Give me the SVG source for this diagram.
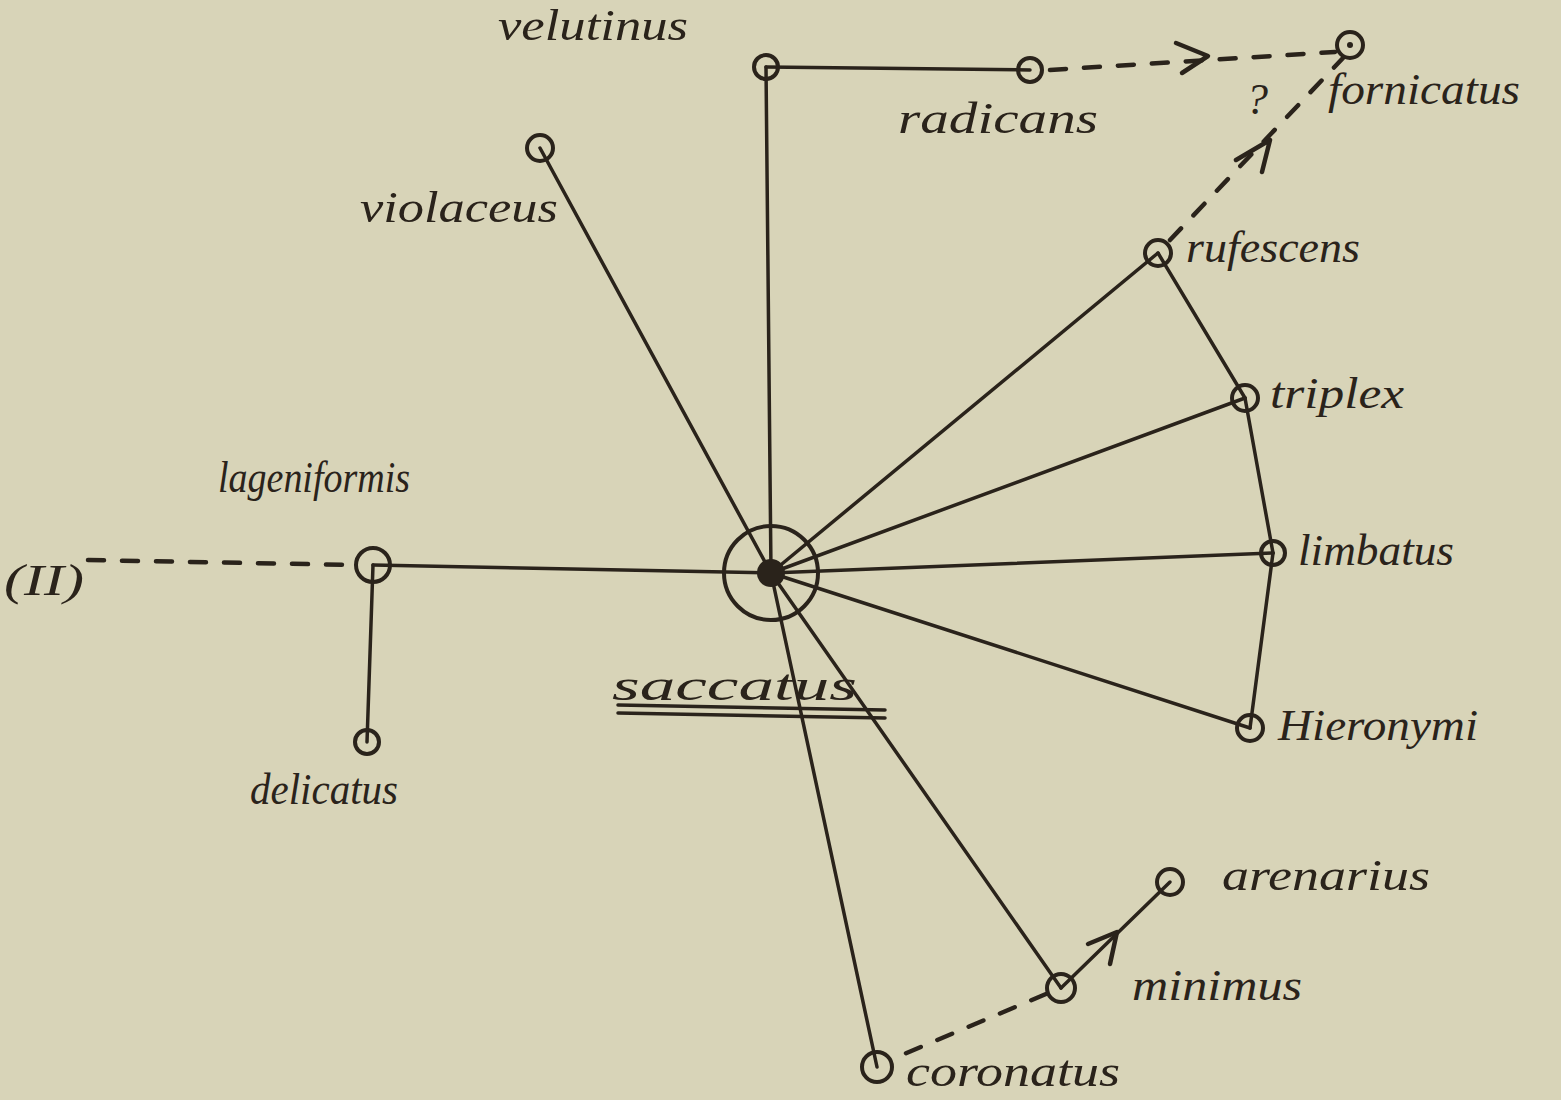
<svg xmlns="http://www.w3.org/2000/svg" width="1561" height="1100" viewBox="0 0 1561 1100">
<style>
.ln{stroke:#2a231b;stroke-width:3.5;fill:none;stroke-linecap:round}
.ds{stroke:#2a231b;stroke-width:4.5;fill:none;stroke-dasharray:16 18;stroke-linecap:round}
.nd{stroke:#2a231b;stroke-width:4;fill:none}
.ar{stroke:#2a231b;stroke-width:4.5;fill:none;stroke-linecap:round;stroke-linejoin:round}
.lb{font-family:"Liberation Serif","DejaVu Serif",serif;font-style:italic;font-size:44px;fill:#2a231b}
</style>
<rect width="1561" height="1100" fill="#d8d4b8"/>
<g id="connectors">
<line class="ln" x1="771" y1="573" x2="766" y2="67"/>
<line class="ln" x1="766" y1="67" x2="1030" y2="70"/>
<line class="ln" x1="771" y1="573" x2="540" y2="148"/>
<line class="ln" x1="771" y1="573" x2="373" y2="565"/>
<line class="ln" x1="373" y1="565" x2="367" y2="742"/>
<line class="ln" x1="771" y1="573" x2="1158" y2="253"/>
<line class="ln" x1="771" y1="573" x2="1245" y2="398"/>
<line class="ln" x1="771" y1="573" x2="1273" y2="553"/>
<line class="ln" x1="771" y1="573" x2="1250" y2="728"/>
<line class="ln" x1="771" y1="573" x2="1061" y2="988"/>
<line class="ln" x1="771" y1="573" x2="877" y2="1067"/>
<line class="ln" x1="1158" y1="253" x2="1245" y2="398"/>
<line class="ln" x1="1245" y1="398" x2="1273" y2="553"/>
<line class="ln" x1="1273" y1="553" x2="1250" y2="728"/>
<line class="ln" x1="1061" y1="988" x2="1170" y2="882"/>
<polyline class="ar" points="1088,944 1117,932 1110,964"/>
<line class="ds" x1="1050" y1="70" x2="1335" y2="52"/>
<polyline class="ar" points="1176,43 1208,56 1182,73"/>
<line class="ds" x1="1170" y1="240" x2="1343" y2="58"/>
<polyline class="ar" points="1236,160 1270,140 1262,172"/>
<line class="ds" x1="88" y1="560" x2="355" y2="565"/>
<line class="ds" x1="1046" y1="994" x2="890" y2="1060"/>
</g>
<g id="saccatus"><circle class="nd" cx="771" cy="573" r="47"/><circle cx="771" cy="573" r="14" fill="#2a231b"/>
<text class="lb" x="612" y="700" textLength="245" lengthAdjust="spacingAndGlyphs">saccatus</text>
<line class="ln" x1="618" y1="705" x2="885" y2="710"/><line class="ln" x1="618" y1="713" x2="885" y2="718"/></g>
<g id="velutinus"><circle class="nd" cx="766" cy="67" r="12"/><text class="lb" x="498" y="40" font-size="42" textLength="190" lengthAdjust="spacingAndGlyphs">velutinus</text></g>
<g id="radicans"><circle class="nd" cx="1030" cy="70" r="12"/><text class="lb" x="898" y="133" textLength="200" lengthAdjust="spacingAndGlyphs">radicans</text></g>
<g id="fornicatus"><circle class="nd" cx="1350" cy="45" r="13"/><circle cx="1350" cy="45" r="3" fill="#2a231b"/><text class="lb" x="1328" y="104" textLength="192" lengthAdjust="spacingAndGlyphs">fornicatus</text></g>
<g id="question"><text class="lb" x="1246" y="114" font-size="38">?</text></g>
<g id="violaceus"><circle class="nd" cx="540" cy="148" r="13"/><text class="lb" x="360" y="222" textLength="198" lengthAdjust="spacingAndGlyphs">violaceus</text></g>
<g id="rufescens"><circle class="nd" cx="1158" cy="253" r="13"/><text class="lb" x="1186" y="262" textLength="174" lengthAdjust="spacingAndGlyphs">rufescens</text></g>
<g id="triplex"><circle class="nd" cx="1245" cy="398" r="13"/><text class="lb" x="1270" y="408" textLength="134" lengthAdjust="spacingAndGlyphs">triplex</text></g>
<g id="limbatus"><circle class="nd" cx="1273" cy="553" r="12"/><text class="lb" x="1298" y="565" textLength="156" lengthAdjust="spacingAndGlyphs">limbatus</text></g>
<g id="Hieronymi"><circle class="nd" cx="1250" cy="728" r="13"/><text class="lb" x="1278" y="740" textLength="200" lengthAdjust="spacingAndGlyphs">Hieronymi</text></g>
<g id="lageniformis"><circle class="nd" cx="373" cy="565" r="17"/><text class="lb" x="218" y="492" textLength="192" lengthAdjust="spacingAndGlyphs">lageniformis</text></g>
<g id="delicatus"><circle class="nd" cx="367" cy="742" r="12"/><text class="lb" x="250" y="804" textLength="148" lengthAdjust="spacingAndGlyphs">delicatus</text></g>
<g id="arenarius"><circle class="nd" cx="1170" cy="882" r="13"/><text class="lb" x="1222" y="890" textLength="208" lengthAdjust="spacingAndGlyphs">arenarius</text></g>
<g id="minimus"><circle class="nd" cx="1061" cy="988" r="14"/><text class="lb" x="1132" y="1000" textLength="170" lengthAdjust="spacingAndGlyphs">minimus</text></g>
<g id="coronatus"><circle class="nd" cx="877" cy="1067" r="15"/><text class="lb" x="906" y="1086" textLength="214" lengthAdjust="spacingAndGlyphs">coronatus</text></g>
<g id="II"><text class="lb" x="4" y="595" font-size="58" textLength="80" lengthAdjust="spacingAndGlyphs">(II)</text></g>
</svg>
